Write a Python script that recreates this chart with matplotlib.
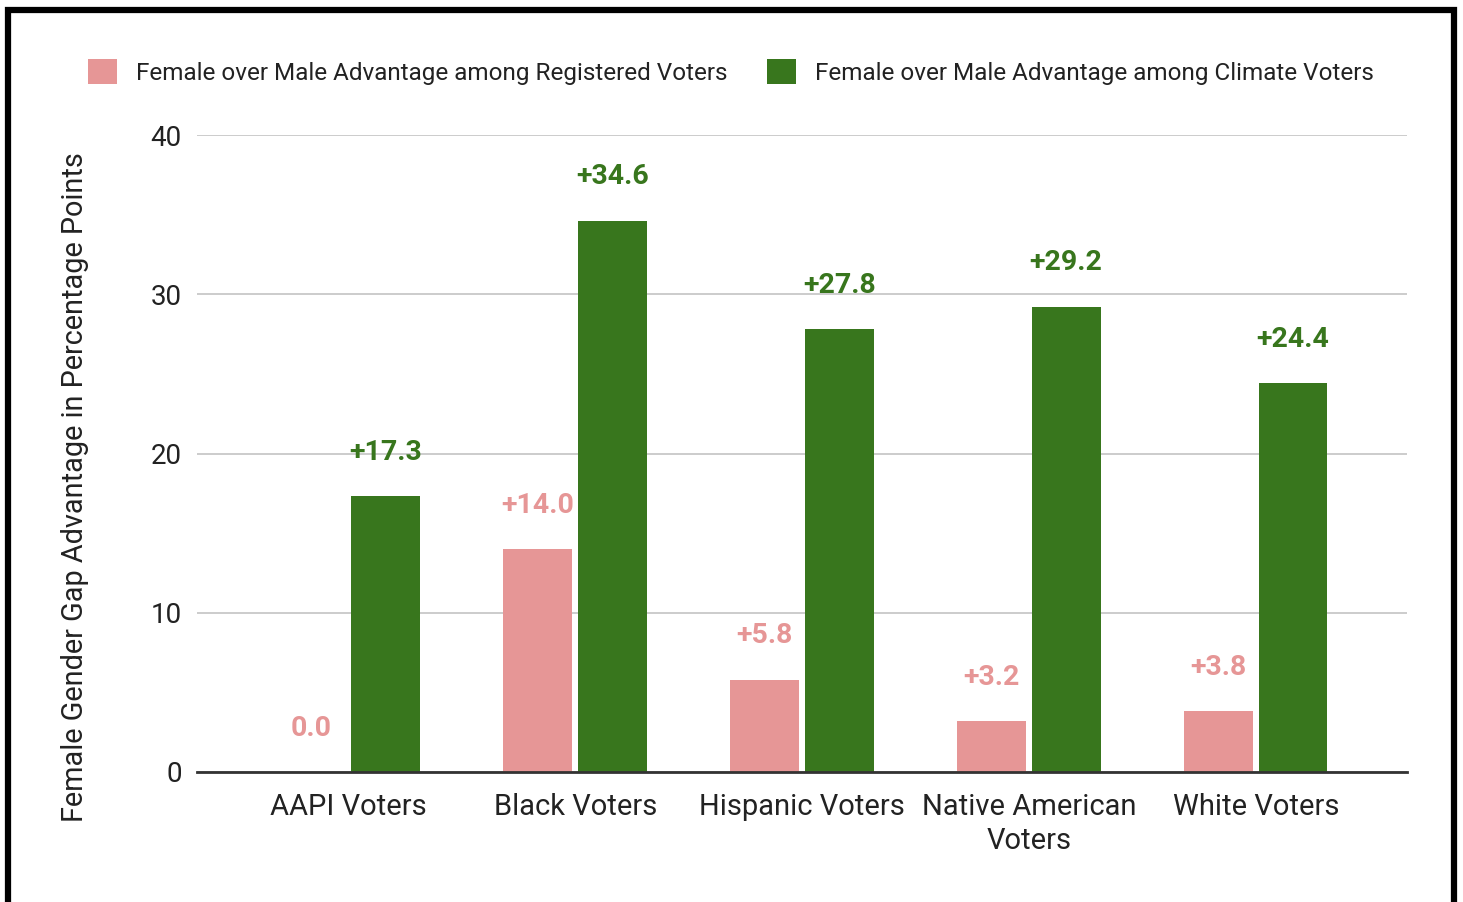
import matplotlib
matplotlib.use("Agg")
import matplotlib.pyplot as plt
from matplotlib.patches import Rectangle, Patch
import numpy as np

plt.rcParams['font.family'] = ['Roboto', 'DejaVu Sans']

categories = ["AAPI Voters", "Black Voters", "Hispanic Voters", "Native American\nVoters", "White Voters"]
registered = [0.0, 14.0, 5.8, 3.2, 3.8]
climate = [17.3, 34.6, 27.8, 29.2, 24.4]
series_names = ["Female over Male Advantage among Registered Voters",
                "Female over Male Advantage among Climate Voters"]
yticks = [0, 10, 20, 30, 40]
ylabel = "Female Gender Gap Advantage in Percentage Points"

PINK = "#e69696"
GREEN = "#38761d"

W, H = 1463, 902
fig = plt.figure(figsize=(W/100, H/100), dpi=100)
ax = fig.add_axes([197/W, 1-772/H, (1407-197)/W, (772-135)/H])

x = np.arange(len(categories))
bw = 0.303
gap = 0.013
b1 = ax.bar(x - bw/2 - gap, registered, bw, color=PINK, zorder=3)
b2 = ax.bar(x + bw/2 + gap, climate, bw, color=GREEN, zorder=3)

for bars, vals, col in [(b1, registered, PINK), (b2, climate, GREEN)]:
    for r, v in zip(bars, vals):
        ax.annotate(f"+{v:.1f}" if v > 0 else f"{v:.1f}",
                    (r.get_x() + r.get_width()/2, v),
                    xytext=(0, 44), textcoords="offset pixels",
                    ha="center", va="center", color=col,
                    fontsize=20.5, fontweight="bold", zorder=4)

ax.set_xlim(-0.667, len(categories) - 1 + 0.667)
ax.set_ylim(0, 40)
ax.set_yticks(yticks)
ax.set_xticks(x)
ax.set_xticklabels(categories, fontsize=21, color="#222222", linespacing=1.3)
ax.tick_params(axis="y", length=0, pad=11, labelsize=20, labelcolor="#222222")
ax.tick_params(axis="x", length=0, pad=15)
ax.grid(axis="y", color="#cccccc", linewidth=1.4, zorder=0)
for s in ["top", "right", "left"]:
    ax.spines[s].set_visible(False)
ax.spines["bottom"].set_color("#333333")
ax.spines["bottom"].set_linewidth(2.0)
ax.spines["bottom"].set_zorder(5)

fig.text(75/W, 1-487/H, ylabel, rotation=90, ha="center", va="center",
         fontsize=20.8, color="#222222")

handles = [Patch(facecolor=PINK, edgecolor="none"), Patch(facecolor=GREEN, edgecolor="none")]
fig.legend(handles, series_names, loc="center", bbox_to_anchor=(731/W, 1-72/H),
           ncol=2, frameon=False, fontsize=17.5, handlelength=1.2, handleheight=1.2,
           handletextpad=0.8, columnspacing=1.6, labelcolor="#222222")

fig.patches.append(Rectangle((8/W, -0.1), (1454-8)/W, 1.1 - 10/H + 0.0,
                             transform=fig.transFigure, fill=False,
                             edgecolor="black", linewidth=4.5, zorder=10))

fig.savefig("out.png", dpi=100)
